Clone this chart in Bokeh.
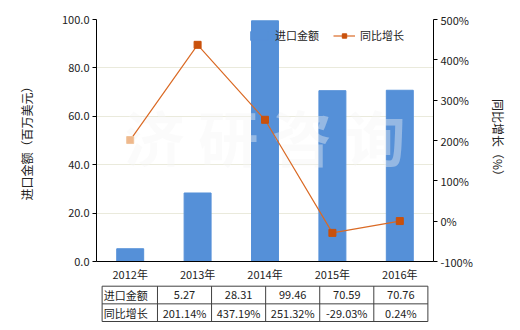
from bokeh.plotting import figure
from bokeh.models import (Range1d, LinearAxis, FixedTicker, PrintfTickFormatter,
                          Legend, LegendItem)
from bokeh.layouts import column
from bokeh.embed import file_html
from bokeh.resources import INLINE
from bokeh.core.properties import value

# ---- data ----
years = ["2012年", "2013年", "2014年", "2015年", "2016年"]
amounts = [5.27, 28.31, 99.46, 70.59, 70.76]          # 进口金额 (百万美元)
growth = [201.14, 437.19, 251.32, -29.03, 0.24]        # 同比增长 (%)
row_labels = ["进口金额", "同比增长"]
left_ticks = [0, 20, 40, 60, 80, 100]
right_ticks = [-100, 0, 100, 200, 300, 400, 500]

FONT = "Noto Sans CJK SC"
BAR = "#5590D8"
LINE = "#DA6A25"
MARK = "#C9510C"
TXT = "#222222"

idx = list(range(len(years)))
n = len(years)

W, H = 520, 330
FL, FR, FT, FB = 96, 433, 19, 262
TOP_H = 284
upp = (FR - FL) / n  # pixels per category

p = figure(width=W, height=TOP_H, x_range=Range1d(-0.5, n - 0.5), y_range=Range1d(0, 100),
           output_backend="svg", toolbar_location=None,
           min_border_left=FL, min_border_right=W - FR, min_border_top=FT,
           min_border_bottom=TOP_H - FB)
p.outline_line_color = None
p.background_fill_color = "white"
p.extra_y_ranges = {"pct": Range1d(-100, 500)}

# axes
xa = p.xaxis[0]
xa.ticker = FixedTicker(ticks=idx)
xa.major_label_overrides = {i: y for i, y in zip(idx, years)}
xa.major_tick_out = 0
xa.major_tick_in = 0
xa.minor_tick_out = 0
xa.minor_tick_in = 0
xa.major_label_standoff = 4
xa.axis_line_color = "black"

ya = p.yaxis[0]
ya.ticker = FixedTicker(ticks=left_ticks)
ya.formatter = PrintfTickFormatter(format="%.1f")
ya.axis_label = "进口金额（百万美元）"
ya.major_tick_out = 4
ya.major_tick_in = 0
ya.minor_tick_out = 0
ya.minor_tick_in = 0
ya.major_label_standoff = 3
ya.axis_label_standoff = 24
ya.axis_line_color = "black"

ra = LinearAxis(y_range_name="pct", ticker=FixedTicker(ticks=right_ticks),
                formatter=PrintfTickFormatter(format="%d%%"), axis_label="同比增长（%）")
ra.major_tick_out = 4
ra.major_tick_in = 0
ra.minor_tick_out = 0
ra.minor_tick_in = 0
ra.major_label_standoff = 3
ra.axis_label_standoff = 14
ra.axis_line_color = "black"
p.add_layout(ra, "right")

for ax in (xa, ya, ra):
    ax.major_label_text_font = FONT
    ax.major_label_text_font_size = "11px"
    ax.major_label_text_color = TXT
    ax.axis_label_text_font = FONT
    ax.axis_label_text_font_size = "12px"
    ax.axis_label_text_font_style = "normal"
    ax.axis_label_text_color = TXT

p.xgrid.visible = False
p.ygrid.grid_line_color = "#EAEADC"
p.ygrid.grid_line_width = 1

# bars
bars = p.vbar(x=idx, top=amounts, width=0.4, fill_color=BAR, line_color=BAR)

# watermark
p.text(x=[2.0], y=[52], text=["济 研 咨 询"], text_font=value(FONT), text_font_size="60px",
       text_font_style="bold", text_align="center", text_baseline="middle",
       text_color="#F4F4F4", text_alpha=0.4)

# growth line
line = p.line(idx, growth, y_range_name="pct", line_color=LINE, line_width=1.2)
p.scatter(idx[:1], growth[:1], y_range_name="pct", marker="square", size=7,
          fill_color="#EFB88C", line_color="#F0C49C")
marks = p.scatter(idx[1:], growth[1:], y_range_name="pct", marker="square", size=7,
                  fill_color=MARK, line_color=MARK)

legend = Legend(items=[LegendItem(label="进口金额", renderers=[bars]),
                       LegendItem(label="同比增长", renderers=[line, marks])],
                orientation="horizontal", location=(152, 218),
                background_fill_alpha=0, border_line_color=None,
                padding=0, margin=0, spacing=14, label_standoff=5,
                glyph_width=22, glyph_height=11, label_height=12)
legend.label_text_font = FONT
legend.label_text_font_size = "11px"
legend.label_text_color = TXT
p.add_layout(legend)

# ---- table ----
TB_H = H - TOP_H
bl, br = 20, 80
x_lo = -0.5 - (FL - bl) / upp
x_hi = n - 0.5 + (W - br - FR) / upp
tab_top_px = 285.7 - TOP_H
tab_bot_px = 321.0 - TOP_H
rowpx = (tab_bot_px - tab_top_px) / 2
y_hi = 2 + tab_top_px / rowpx
y_lo = -(TB_H - tab_bot_px) / rowpx
label_left = -0.5 - (FL - 27) / upp

t = figure(width=W, height=TB_H, x_range=Range1d(x_lo, x_hi), y_range=Range1d(y_lo, y_hi),
           output_backend="svg", toolbar_location=None, x_axis_type=None, y_axis_type=None,
           min_border_left=bl, min_border_right=br, min_border_top=0, min_border_bottom=0)
t.outline_line_color = None
t.grid.visible = False

hx0 = [label_left] * 3
hx1 = [n - 0.5] * 3
hy = [0, 1, 2]
t.segment(x0=hx0, y0=hy, x1=hx1, y1=hy, line_color="#404040", line_width=1)
vx = [label_left] + [i - 0.5 for i in range(n + 1)]
t.segment(x0=vx, y0=[0] * len(vx), x1=vx, y1=[2] * len(vx), line_color="#404040", line_width=1)

t.text(x=[label_left + 2 / upp] * 2, y=[1.5, 0.5], text=row_labels, text_font=value(FONT),
       text_font_size="11px", text_align="left", text_baseline="middle", text_color=TXT)
t.text(x=idx, y=[1.5] * n, text=[f"{v:.2f}" for v in amounts], text_font=value(FONT),
       text_font_size="11px", text_align="center", text_baseline="middle", text_color=TXT)
t.text(x=idx, y=[0.5] * n, text=[f"{g:.2f}%" for g in growth], text_font=value(FONT),
       text_font_size="11px", text_align="center", text_baseline="middle", text_color=TXT)

layout = column(p, t, spacing=0)
open("out.html", "w").write(file_html(layout, INLINE))
